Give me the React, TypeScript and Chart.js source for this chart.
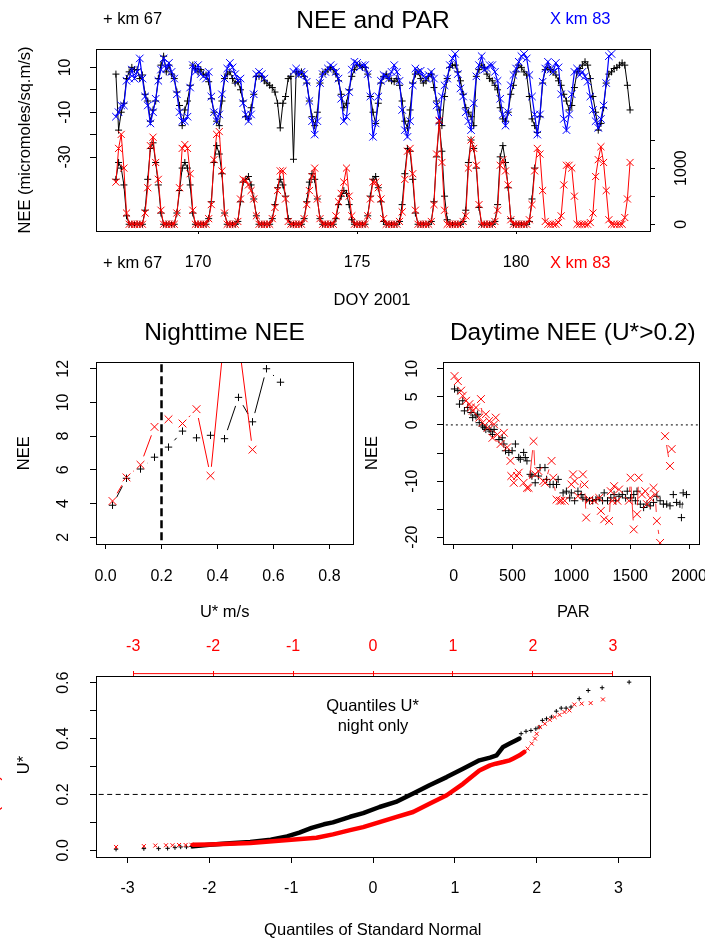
import React, { useEffect, useRef } from "react";
import { Chart, registerables } from "chart.js";

Chart.register(...registerables);

const FONT = '"Liberation Sans", Arial, Helvetica, sans-serif';
const BLACK = "#000000";
const BLUE = "#0000ff";
const RED = "#ff0000";

// ---------------- Panel 1: NEE and PAR (DOY 2001), 2-hourly samples ----------------
const T_START = 167 + 5 / 12; // DOY of first sample
const T_STEP = 1 / 12; // 2 hours
const doyTicks = [170, 175, 180];
const neeTicks = [-30, -20, -10, 0, 10];
const neeTickLabels = [-30, -10, 10];
const parTicks = [0, 500, 1000, 1500];
const parTickLabels = [0, 1000];

const neeKm67 = [
  7, -18, -10, -6, 5, 8, 10, // 167
  9, 9, 5, 6.6, -2, -5, -14, -9, -5, 5, 11, 15, // 168
  8, 11, 7, 5, -1, -7, -16, -9, -5, 2, 11, 9.5, // 169
  8, 9, 7, 6.6, 3.6, -4, -10, -14, -16, -5, 5, 7, // 170
  8, 5, 3, 3.6, 0, -5, -12, -13, -8, -2, 6, 6, // 171
  6, 4, 3, 2, 1, -1, -6, -17, -6, -3, 5, 6, // 172
  -31, 8, 7, 8, 6, 3, -5, -12, -16, -10, 3, 7, // 173
  8, 9, 10, 9, 7, 4, -2, -8, -6, 0, 6, 9, // 174
  11, 11, 10, 10, 7, -3, -10, -15, -6, 3, 6, 7, // 175
  5, 4, 3.6, 5, 2, -5, -14, -17, -9, 3, 7, 8, // 176
  5, 3, 4, 6, 7, 1, -5, -9, -16, -3, 5, 10, // 177
  11, 11, 8, 4, -2, -8, -10, -12, -16, 6, 9, 11, // 178
  10, 7, 5, 4, 2, 0, -8, -13, -14, -10, -2, 2, // 179
  8, 11, 10, 8, 6.6, -3, -13, -16, -19, -12, 3, 9, // 180
  10, 9, 8, 6.6, 4, 2, -2, -5, -9, -7, 1, 8, // 181
  9.5, 11, 12.5, 11, 5, -3, -10, -18, -15, -8, 3, 7, // 182
  8, 9.5, 10, 11, 12, 11, 2, -9, // 183
];

const neeKm83 = [
  -12, -10, -7, -7, 4, 5, 9, // 167
  5, 8, 14, 5, -3, -7, -15, -10, -4, 4, 9, 14, // 168
  9.5, 12, 8, 5, -2, -10, -14, -14, -12, 1, 11, 8, // 169
  11, 7, 6, 5, 8, -3, -10, -14, -11, -2, 5, 9.5, // 170
  12, 10, 7, 4, 5, -6, -11, -14, -11, -2, 7, 8, // 171
  7, 5, null, null, null, null, null, null, null, null, null, null, // 172
  8, 9.5, 6.6, 8, 7, 3.6, -5, -14, -20, -14, 3, 7, // 173
  8, 9.5, 11, 10, 8, 5, -4, -14, -12, -1, 9, 12.5, // 174
  12, 10, 11, 11, 7, -3, -21, -15, -3, 4, 6.6, 6, // 175
  5, 8, 11, 8, 4, -9, -18, -21, -14, 2, 9.5, 8, // 176
  8.5, 6, 5, 6.6, 8, 5, -7, -14, -3, 2, 5, 11, // 177
  14, 16, 7, 0.6, -3, -10, -14, -18, -6, 6, 11, 15, // 178
  9, 9.5, 11, 11, 8, 4, -4, -11, -16, -10, 2, 6.6, // 179
  9.5, 12.5, 15, 16, 14, 6.6, -3, -11, -20, -11, 3.6, 9.5, // 180
  12.5, 9, 8, 12, 10, -2, -13, -18, -11, -2, 8, 9.5, // 181
  6.6, 8, 6, 3.6, -3, -9, -14, -17, -13, -7, 3, 15, // 182
  16, // 183
];

const parKm67 = [
  800, 1100, 1000, 700, 150, 0, 0, // 167
  0, 0, 0, 0, 250, 800, 1350, 1450, 1100, 700, 200, 0, // 168
  0, 0, 0, 0, 200, 600, 1000, 1100, 1000, 700, 200, 0, // 169
  0, 0, 0, 0, 100, 400, 1100, 1400, 1250, 900, 200, 0, // 170
  0, 0, 0, 50, 400, 750, 800, 850, 700, 450, 150, 0, // 171
  0, 0, 0, 0, 100, 350, 650, 800, 700, 500, 100, 0, // 172
  0, 0, 0, 0, 100, 400, 750, 900, 800, 450, 100, 0, // 173
  0, 0, 0, 0, 100, 350, 500, 600, 550, 350, 80, 0, // 174
  0, 0, 0, 0, 150, 500, 800, 850, 650, 400, 50, 0, // 175
  0, 0, 0, 0, 50, 350, 900, 1350, 1300, 800, 200, 0, // 176
  0, 0, 0, 0, 50, 400, 1200, 1800, 1300, 500, 80, 0, // 177
  0, 0, 0, 0, 50, 250, 1100, 1500, 1350, 1000, 300, 0, // 178
  0, 0, 0, 0, 50, 350, 1200, 1400, 1100, 650, 100, 0, // 179
  0, 0, 0, 0, 0, 50, 450, 1000, // 180
];

const parKm83 = [
  750, 1350, 1600, 1000, 200, 0, 0, // 167
  0, 0, 0, 0, 200, 650, 1400, 1550, 1100, 800, 250, 0, // 168
  0, 0, 0, 0, 200, 650, 1350, 1420, 1350, 900, 250, 0, // 169
  0, 0, 0, 0, 100, 350, 1150, 1600, 1650, 950, 200, 0, // 170
  0, 0, 0, 50, 450, 800, 780, 700, 600, 450, 150, 0, // 171
  0, 0, 0, 0, 100, 300, 600, 950, 950, 450, 50, 0, // 172
  0, 0, 0, 0, 100, 350, 600, 850, 1000, 450, 100, 0, // 173
  0, 0, 0, 0, 150, 400, 550, 750, 1000, 500, 150, 0, // 174
  0, 0, 0, 0, 150, 450, 750, 750, 650, 450, 100, 0, // 175
  0, 0, 0, 0, 50, 220, 800, 1300, 1350, 900, 250, 0, // 176
  0, 0, 0, 0, 50, 350, 1250, 1850, 1100, 250, 0, 0, // 177
  0, 0, 0, 0, 50, 150, 1000, 1500, 1350, 1050, 350, 0, // 178
  0, 0, 0, 0, 50, 250, 1050, 1150, 950, 700, 80, 0, // 179
  0, 0, 0, 0, 0, 80, 350, 950, 1350, 1250, 600, 50, // 180
  0, 0, 0, 0, 30, 150, 700, 1050, 1050, 1000, 500, 0, // 181
  0, 0, 0, 0, 30, 200, 850, 1150, 1380, 1100, 600, 80, // 182
  0, 0, 0, 0, 0, 120, 450, 1100, // 183
];

// ---------------- Panel 2: Nighttime NEE vs U* ----------------
const U_THRESHOLD = 0.2;
const nightUstar67 = [0.025, 0.075, 0.125, 0.175, 0.225, 0.275, 0.325, 0.375, 0.425, 0.475, 0.525, 0.575, 0.625];
const nightNee67 = [3.9, 5.5, 6.05, 6.75, 7.35, 8.3, 7.9, 8.05, 7.85, 10.3, 8.85, 12.0, 11.2];
const nightUstar83 = [0.025, 0.075, 0.125, 0.175, 0.225, 0.275, 0.325, 0.375, 0.425, 0.475, 0.525];
const nightNee83 = [4.15, 5.55, 6.3, 8.55, 9.0, 8.75, 9.6, 5.65, 14.1, 13.7, 7.2];
const nightXTicks = [0, 0.2, 0.4, 0.6, 0.8];
const nightYTicks = [2, 4, 6, 8, 10, 12];

// ---------------- Panel 3: Daytime NEE vs PAR (U* > 0.2) ----------------
const dayPar67 = [8, 36, 50, 78, 92, 120, 148, 162, 190, 204, 218, 246, 260, 274, 302, 316, 330, 344, 385, 413, 427, 441, 469, 497, 525, 553, 567, 595, 609, 623, 651, 665, 693, 720, 734, 776, 790, 818, 846, 874, 888, 930, 958, 986, 1000, 1028, 1056, 1084, 1098, 1126, 1154, 1181, 1209, 1237, 1265, 1279, 1307, 1335, 1363, 1377, 1405, 1433, 1461, 1475, 1503, 1530, 1544, 1558, 1586, 1614, 1642, 1670, 1698, 1726, 1754, 1782, 1810, 1838, 1866, 1894, 1922, 1935, 1950, 1978];
const dayNee67 = [6.4, 6.1, 3.7, 4.3, 2.5, 3.1, 2.2, 1.3, 1.6, 1.9, 0.4, -0.2, -0.5, -0.8, -0.8, -1.1, -1.7, -0.8, -2.6, -2.3, -3.4, -4.6, -4.9, -4.6, -3.4, -5.8, -6.1, -4.9, -5.8, -6.4, -8.8, -9.1, -10.3, -9.1, -7.6, -7.6, -9.7, -10.6, -10.6, -10.6, -9.7, -12.1, -11.8, -13.0, -12.1, -13.5, -11.8, -12.4, -13.0, -13.3, -13.5, -13.5, -13.3, -13.0, -13.5, -12.1, -13.5, -13.0, -12.4, -13.5, -12.7, -12.4, -13.0, -11.8, -13.0, -12.4, -13.5, -11.8, -14.1, -14.7, -14.1, -14.4, -13.8, -12.7, -13.5, -14.1, -14.1, -14.4, -12.4, -13.8, -14.1, -16.5, -12.1, -12.4];
// the km 83 record has a gap (null) between the last two PAR bins
const dayPar83 = [8, 36, 64, 78, 106, 134, 148, 162, 190, 218, 232, 246, 274, 288, 302, 330, 344, 358, 372, 399, 427, 455, 483, 490, 511, 539, 553, 595, 623, 637, 679, 693, 720, 762, 776, 832, 846, 874, 902, 916, 944, 1000, 1014, 1028, 1056, 1098, 1112, 1126, 1154, 1195, 1237, 1251, 1279, 1321, 1335, 1349, 1363, 1391, 1405, 1489, 1503, 1530, 1558, 1572, 1600, 1628, 1642, 1670, 1698, 1712, 1726, 1754, 1775, 1796, 1838, 1852];
const dayNee83 = [8.7, 7.8, 6.1, 5.2, 4.3, 3.7, 3.1, 2.5, 3.1, 1.3, 4.6, 0.4, 1.9, -0.5, 0.7, -2.3, 0.1, 1.3, -1.7, -3.4, -1.4, -4.0, -6.4, -9.1, -10.3, -9.1, -8.5, -10.3, -11.2, -11.2, -2.9, -8.8, -8.2, -10.0, -10.3, -6.4, -9.4, -13.3, -13.5, -13.5, -13.5, -10.6, -8.8, -10.0, -12.7, -8.8, -10.6, -16.5, -13.3, -13.5, -13.0, -15.3, -16.8, -17.1, -11.8, -13.5, -10.9, -13.5, -11.5, -13.5, -9.4, -18.6, -15.9, -9.4, -12.4, -11.8, -14.1, -13.0, -11.2, -12.4, -17.1, -21.0, null, -2.0, -7.3, -4.3];
const dayXTicks = [0, 500, 1000, 1500, 2000];
const dayYTicks = [-20, -15, -10, -5, 0, 5, 10];
const dayYTickLabels = [-20, -10, 0, 5, 10];

// ---------------- Panel 4: Normal QQ plot of night U* ----------------
const qqBlackBandQ = [-2.2, -2.0, -1.75, -1.5, -1.25, -1.05, -0.9, -0.75, -0.6, -0.49, -0.28, -0.12, 0.08, 0.28, 0.49, 0.69, 0.9, 1.1, 1.3, 1.43, 1.51, 1.59, 1.67, 1.75, 1.79];
const qqBlackBandU = [0.014, 0.02, 0.025, 0.03, 0.038, 0.05, 0.063, 0.08, 0.093, 0.1, 0.12, 0.133, 0.155, 0.173, 0.203, 0.233, 0.262, 0.292, 0.322, 0.332, 0.34, 0.37, 0.382, 0.394, 0.4];
const qqBlackTailQ = [-3.14, -2.8, -2.62, -2.51, -2.42, -2.35, -2.28, -2.22, 1.81, 1.87, 1.93, 1.99, 2.03, 2.07, 2.12, 2.18, 2.24, 2.3, 2.36, 2.42, 2.52, 2.63, 2.8, 3.13];
const qqBlackTailU = [0.004, 0.006, 0.006, 0.007, 0.0095, 0.012, 0.012, 0.014, 0.4175, 0.426, 0.429, 0.435, 0.441, 0.465, 0.471, 0.477, 0.498, 0.509, 0.509, 0.513, 0.543, 0.572, 0.582, 0.602];
const qqRedBandQ = [-2.2, -2.0, -1.5, -1.0, -0.69, -0.49, -0.28, -0.12, 0.08, 0.28, 0.49, 0.69, 0.9, 1.1, 1.3, 1.43, 1.5, 1.59, 1.67, 1.71, 1.79, 1.85];
const qqRedBandU = [0.02, 0.021, 0.026, 0.038, 0.045, 0.057, 0.072, 0.083, 0.101, 0.119, 0.137, 0.167, 0.197, 0.238, 0.286, 0.304, 0.31, 0.316, 0.322, 0.328, 0.34, 0.352];
const qqRedTailQ = [-3.14, -2.8, -2.66, -2.53, -2.45, -2.37, -2.29, -2.22, 1.89, 1.94, 1.98, 2.0, 2.04, 2.1, 2.16, 2.22, 2.28, 2.34, 2.4, 2.46, 2.55, 2.66, 2.81];
const qqRedTailU = [0.012, 0.015, 0.017, 0.018, 0.018, 0.019, 0.019, 0.02, 0.364, 0.382, 0.4, 0.417, 0.441, 0.453, 0.467, 0.477, 0.485, 0.495, 0.501, 0.522, 0.525, 0.527, 0.54];
const qqXTicks = [-3, -2, -1, 0, 1, 2, 3];
const qqYTicks = [0, 0.1, 0.2, 0.3, 0.4, 0.5, 0.6];
const qqYTickLabels = [0, 0.2, 0.4, 0.6];
const QQ_TOP_AXIS_Y = 0.6325;

// ---------------- helpers ----------------
const zip = (xs: number[], ys: (number | null)[]) => xs.map((x, i) => ({ x, y: ys[i] }));
const timePoints = (vals: (number | null)[]) => vals.map((v, i) => ({ x: T_START + i * T_STEP, y: v }));

// emulate R type="b": line segments with a gap around each point
const gapDash = (gap: number) => (ctx: any) => {
  const a = ctx.p0;
  const b = ctx.p1;
  const len = Math.hypot(b.x - a.x, b.y - a.y);
  if (!(len > 2 * gap)) return [0, len + 50];
  return [0, gap, len - 2 * gap, len + 50];
};

function axis(o: any) {
  const horizontal = o.position === "top" || o.position === "bottom";
  const color = o.color || BLACK;
  return {
    type: "linear",
    position: o.position,
    min: o.min,
    max: o.max,
    bounds: "data",
    afterBuildTicks: (s: any) => {
      s.ticks = o.ticks.map((v: number) => ({ value: v }));
    },
    afterFit: (s: any) => {
      if (horizontal) s.height = o.size;
      else s.width = o.size;
      s.paddingLeft = 0;
      s.paddingRight = 0;
      s.paddingTop = 0;
      s.paddingBottom = 0;
    },
    ticks: {
      autoSkip: false,
      color,
      font: { family: FONT, size: 16 },
      padding: o.pad,
      minRotation: horizontal ? 0 : 90,
      maxRotation: horizontal ? 0 : 90,
      crossAlign: horizontal ? "near" : "center",
      callback: (v: number) => o.show(v),
    },
    grid: { display: true, drawOnChartArea: false, drawTicks: true, tickLength: o.tl, color, lineWidth: 1 },
    border: { display: false },
  };
}

const boxPlugin = {
  id: "plotBox",
  afterDatasetsDraw(chart: any) {
    const { ctx, chartArea: a } = chart;
    ctx.save();
    ctx.strokeStyle = BLACK;
    ctx.lineWidth = 1;
    ctx.setLineDash([]);
    ctx.strokeRect(Math.round(a.left) + 0.5, Math.round(a.top) + 0.5, Math.round(a.right - a.left), Math.round(a.bottom - a.top));
    ctx.restore();
  },
};

type Txt = { text: string; x: number; y: number; size?: number; color?: string; align?: string; baseline?: string; rot?: number };
const textPlugin = (items: Txt[]) => ({
  id: "texts",
  afterDraw(chart: any) {
    const ctx = chart.ctx;
    for (const t of items) {
      ctx.save();
      ctx.font = `${t.size ?? 16.5}px ${FONT}`;
      ctx.fillStyle = t.color || BLACK;
      ctx.textAlign = t.align || "center";
      ctx.textBaseline = t.baseline || "middle";
      ctx.translate(t.x, t.y);
      if (t.rot) ctx.rotate((t.rot * Math.PI) / 180);
      ctx.fillText(t.text, 0, 0);
      ctx.restore();
    }
  },
});

const base = {
  responsive: false,
  animation: false,
  devicePixelRatio: 1,
  events: [],
  elements: { line: { tension: 0 } },
};
const noPlugins = { legend: { display: false }, tooltip: { enabled: false }, title: { display: false } };

const markers = (color: string, style: string, r: number) => ({
  pointStyle: style,
  pointRadius: r,
  pointBorderColor: color,
  pointBackgroundColor: color,
  pointBorderWidth: 1,
});

// ---------------- chart configs ----------------
function topConfig() {
  return {
    type: "scatter",
    data: {
      datasets: [
        { data: timePoints(parKm83), yAxisID: "yPar", showLine: true, borderColor: RED, borderWidth: 1, ...markers(RED, "crossRot", 5) },
        { data: timePoints(parKm67), yAxisID: "yPar", showLine: true, borderColor: BLACK, borderWidth: 1, ...markers(BLACK, "cross", 3.5) },
        { data: timePoints(neeKm83), yAxisID: "yNee", showLine: true, borderColor: BLUE, borderWidth: 1.2, ...markers(BLUE, "crossRot", 5.3) },
        { data: timePoints(neeKm67), yAxisID: "yNee", showLine: true, borderColor: BLACK, borderWidth: 1, ...markers(BLACK, "cross", 3.5) },
      ],
    },
    options: {
      ...base,
      layout: { padding: { top: 49, left: 0, right: 0, bottom: 0 } },
      plugins: noPlugins,
      scales: {
        x: axis({ min: 166.79, max: 184.21, ticks: doyTicks, show: (v: number) => String(v), position: "bottom", size: 79, pad: 19.4, tl: 3 }),
        yNee: axis({ min: -63, max: 18.2, ticks: neeTicks, show: (v: number) => (neeTickLabels.includes(v) ? String(v) : ""), position: "left", size: 96, pad: 12.4, tl: 6 }),
        yPar: axis({ min: -120, max: 3120, ticks: parTicks, show: (v: number) => (parTickLabels.includes(v) ? String(v) : ""), position: "right", size: 76, pad: 9.2, tl: 5 }),
      },
    },
    plugins: [
      boxPlugin,
      textPlugin([
        { text: "+ km 67", x: 103, y: 19.5, align: "left" },
        { text: "NEE and PAR", x: 373, y: 21.3, size: 24.5 },
        { text: "X km 83", x: 550, y: 19.5, align: "left", color: BLUE },
        { text: "+ km 67", x: 103, y: 263, align: "left" },
        { text: "X km 83", x: 550, y: 263, align: "left", color: RED },
        { text: "DOY 2001", x: 372, y: 300 },
        { text: "NEE (micromoles/sq.m/s)", x: 25, y: 140, rot: -90 },
      ]),
    ],
  };
}

function nightConfig() {
  return {
    type: "scatter",
    data: {
      datasets: [
        { data: zip(nightUstar83, nightNee83), showLine: true, borderColor: RED, borderWidth: 1, segment: { borderDash: gapDash(9) }, ...markers(RED, "crossRot", 5.5) },
        { data: zip(nightUstar67, nightNee67), showLine: true, borderColor: BLACK, borderWidth: 1, segment: { borderDash: gapDash(9) }, ...markers(BLACK, "cross", 3.7) },
        { data: [{ x: U_THRESHOLD, y: -100 }, { x: U_THRESHOLD, y: 100 }], showLine: true, borderColor: BLACK, borderWidth: 2.5, borderDash: [8, 4], pointRadius: 0 },
      ],
    },
    options: {
      ...base,
      layout: { padding: { top: 52, left: 0, right: 10, bottom: 0 } },
      plugins: noPlugins,
      scales: {
        x: axis({ min: -0.034, max: 0.884, ticks: nightXTicks, show: (v: number) => v.toFixed(1), position: "bottom", size: 86, pad: 18.1, tl: 5 }),
        y: axis({ min: 1.6, max: 12.4, ticks: nightYTicks, show: (v: number) => String(v), position: "left", size: 96, pad: 17.1, tl: 6 }),
      },
    },
    plugins: [
      boxPlugin,
      textPlugin([
        { text: "Nighttime NEE", x: 224.5, y: 23.3, size: 24.5 },
        { text: "NEE", x: 24.5, y: 143.3, rot: -90 },
        { text: "U* m/s", x: 224.7, y: 302.5 },
      ]),
    ],
  };
}

function dayConfig() {
  return {
    type: "scatter",
    data: {
      datasets: [
        { data: zip(dayPar83, dayNee83), showLine: true, borderColor: RED, borderWidth: 0.8, segment: { borderDash: gapDash(9) }, ...markers(RED, "crossRot", 5.5) },
        { data: zip(dayPar67, dayNee67), showLine: true, borderColor: "#444444", borderWidth: 0.8, segment: { borderDash: gapDash(9) }, ...markers(BLACK, "cross", 3.7) },
        { data: [{ x: -1000, y: 0 }, { x: 5000, y: 0 }], showLine: true, borderColor: BLACK, borderWidth: 1, borderDash: [2, 3], pointRadius: 0 },
      ],
    },
    options: {
      ...base,
      layout: { padding: { top: 52, left: 0, right: 3, bottom: 0 } },
      plugins: noPlugins,
      scales: {
        x: axis({ min: -90, max: 2080, ticks: dayXTicks, show: (v: number) => String(v), position: "bottom", size: 86, pad: 17.7, tl: 5 }),
        y: axis({ min: -21.2, max: 11.2, ticks: dayYTicks, show: (v: number) => (dayYTickLabels.includes(v) ? String(v) : ""), position: "left", size: 80, pad: 12.4, tl: 6 }),
      },
    },
    plugins: [
      boxPlugin,
      textPlugin([
        { text: "Daytime NEE (U*>0.2)", x: 209.8, y: 23.3, size: 24.5 },
        { text: "NEE", x: 9.5, y: 143, rot: -90 },
        { text: "PAR", x: 210.3, y: 302.5 },
      ]),
    ],
  };
}

function qqConfig() {
  return {
    type: "scatter",
    data: {
      datasets: [
        { data: zip(qqRedTailQ, qqRedTailU), showLine: false, ...markers(RED, "crossRot", 2.8) },
        { data: zip(qqRedBandQ, qqRedBandU), showLine: true, borderColor: RED, borderWidth: 4.5, borderJoinStyle: "round", borderCapStyle: "round", pointRadius: 0 },
        { data: zip(qqBlackTailQ, qqBlackTailU), showLine: false, ...markers(BLACK, "cross", 2.2) },
        { data: zip(qqBlackBandQ, qqBlackBandU), showLine: true, borderColor: BLACK, borderWidth: 4.5, borderJoinStyle: "round", borderCapStyle: "round", pointRadius: 0 },
        { data: [{ x: -10, y: U_THRESHOLD }, { x: 10, y: U_THRESHOLD }], showLine: true, borderColor: BLACK, borderWidth: 1, borderDash: [5, 3.5], pointRadius: 0 },
        { xAxisID: "xTop", data: [{ x: qqXTicks[0], y: QQ_TOP_AXIS_Y }, { x: qqXTicks[qqXTicks.length - 1], y: QQ_TOP_AXIS_Y }], showLine: true, clip: false, borderColor: RED, borderWidth: 1, pointRadius: 0 },
      ],
    },
    options: {
      ...base,
      layout: { padding: { top: 0, left: 0, right: 76, bottom: 0 } },
      plugins: noPlugins,
      scales: {
        x: axis({ min: -3.385, max: 3.385, ticks: qqXTicks, show: (v: number) => String(v), position: "bottom", size: 83, pad: 16.4, tl: 6 }),
        xTop: axis({ min: -3.465, max: 3.465, ticks: qqXTicks, show: (v: number) => String(v), position: "top", size: 46, pad: 14.6, tl: 5, color: RED }),
        y: axis({
          min: -0.024,
          max: 0.624,
          ticks: qqYTicks,
          show: (v: number) => (qqYTickLabels.some((l) => Math.abs(l - v) < 1e-9) ? v.toFixed(1) : ""),
          position: "left",
          size: 96,
          pad: 15.2,
          tl: 6,
        }),
      },
    },
    plugins: [
      boxPlugin,
      textPlugin([
        { text: "Quantiles U*", x: 372.5, y: 76.7 },
        { text: "night only", x: 373, y: 96.7 },
        { text: "U*", x: 24.2, y: 135, rot: -90 },
        { text: "U* (m/s)", x: -1, y: 145, rot: -90, color: RED, align: "right", baseline: "alphabetic" },
        { text: "Quantiles of Standard Normal", x: 372.8, y: 300 },
      ]),
    ],
  };
}

function ChartBox({ x, y, w, h, make }: { x: number; y: number; w: number; h: number; make: () => any }) {
  const ref = useRef<HTMLCanvasElement>(null);
  useEffect(() => {
    const chart = new Chart(ref.current as HTMLCanvasElement, make());
    return () => chart.destroy();
  }, []);
  return <canvas ref={ref} width={w} height={h} style={{ position: "absolute", left: x, top: y, width: w, height: h }} />;
}

export default function App() {
  return (
    <div style={{ position: "absolute", left: 0, top: 0, width: 726, height: 940, background: "#ffffff", overflow: "hidden" }}>
      <ChartBox x={0} y={0} w={726} h={310} make={topConfig} />
      <ChartBox x={0} y={310} w={363} h={320} make={nightConfig} />
      <ChartBox x={363} y={310} w={342} h={320} make={dayConfig} />
      <ChartBox x={0} y={630} w={726} h={310} make={qqConfig} />
    </div>
  );
}
